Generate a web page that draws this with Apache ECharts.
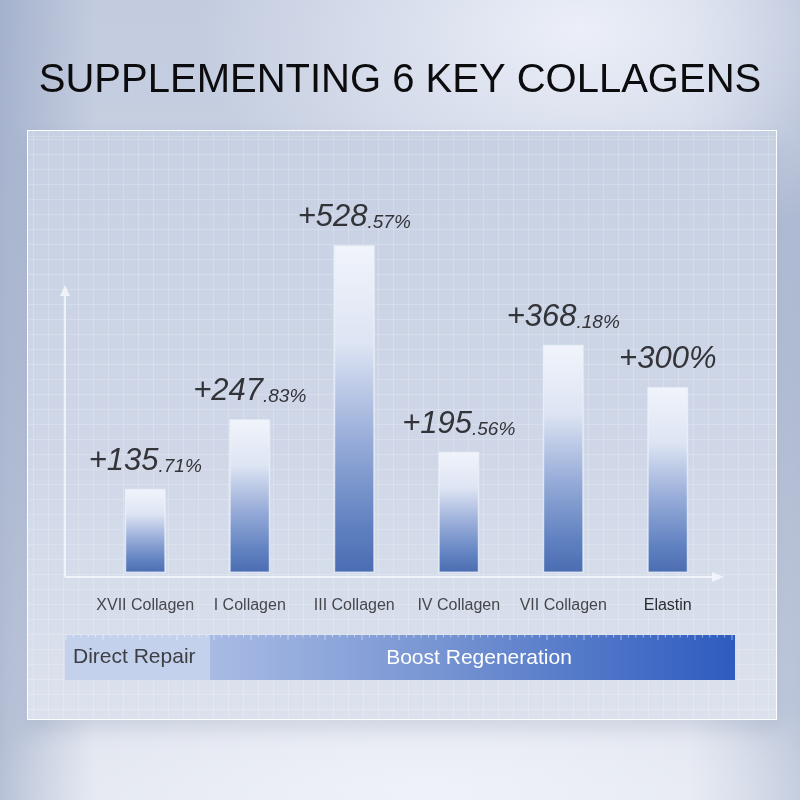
<!DOCTYPE html>
<html>
<head>
<meta charset="utf-8">
<title>Supplementing 6 Key Collagens</title>
<script src="https://cdn.jsdelivr.net/npm/echarts/dist/echarts.min.js"></script>
<style>
  html, body { margin: 0; padding: 0; }
  body {
    width: 800px; height: 800px; overflow: hidden; position: relative;
    background:
      radial-gradient(ellipse 380px 230px at 580px 30px, rgba(238,241,250,0.95), rgba(238,241,250,0) 100%),
      radial-gradient(ellipse 460px 130px at 430px 790px, rgba(240,243,249,0.9), rgba(240,243,249,0) 100%),
      linear-gradient(90deg, rgba(140,156,190,0.55) 0%, rgba(140,156,190,0) 12%, rgba(140,156,190,0) 86%, rgba(140,156,190,0.45) 100%),
      linear-gradient(180deg, #c3ccdf 0%, #cbd3e3 45%, #dce1ec 80%, #e3e7f0 100%);
  }
  #panel {
    position: absolute; left: 27px; top: 130px; width: 748px; height: 588px;
    border: 1.5px solid rgba(255,255,255,0.95);
    background:
      repeating-linear-gradient(90deg, rgba(255,255,255,0.19) 0 1px, transparent 1px 15px),
      repeating-linear-gradient(180deg, rgba(255,255,255,0.19) 0 1px, transparent 1px 15px),
      linear-gradient(180deg, #c7d1e3 0%, #ced6e7 50%, #dce2ed 100%);
    background-position: 5px 8px, 5px 8px, 0 0;
    box-shadow: 0 10px 16px rgba(110,125,160,0.18);
  }
  #chart { position: absolute; left: 0; top: 0; width: 800px; height: 800px; }
</style>
</head>
<body>
<div id="panel"></div>
<div id="chart"></div>
<script>
// Chart content
const titleText = 'SUPPLEMENTING 6 KEY COLLAGENS';
const categories = ['XVII Collagen', 'I Collagen', 'III Collagen', 'IV Collagen', 'VII Collagen', 'Elastin'];
const increases = [135.71, 247.83, 528.57, 195.56, 368.18, 300];
const bandLabels = ['Direct Repair', 'Boost Regeneration'];

const chart = echarts.init(document.getElementById('chart'), null, { renderer: 'canvas' });

// "+528.57%" -> large integer part, small decimal part
function percentLabel(v) {
  const parts = String(v).split('.');
  if (parts.length === 1) return '{big|+' + parts[0] + '%}';
  return '{big|+' + parts[0] + '}{small|.' + parts[1] + '%}';
}

// Decorative axis arrows and the repair / regeneration band
const axisColor = 'rgba(244,247,252,0.85)';
const graphics = [
  { type: 'line', shape: { x1: 65, y1: 577, x2: 65, y2: 295 }, style: { stroke: axisColor, lineWidth: 2 } },
  { type: 'polygon', shape: { points: [[65, 285], [60, 296], [70, 296]] }, style: { fill: axisColor } },
  { type: 'line', shape: { x1: 65, y1: 577, x2: 713, y2: 577 }, style: { stroke: axisColor, lineWidth: 2 } },
  { type: 'polygon', shape: { points: [[724, 577], [712, 572], [712, 582]] }, style: { fill: axisColor } },
  { type: 'rect', shape: { x: 65, y: 635, width: 145, height: 45 }, style: { fill: '#c4d1ec' } },
  {
    type: 'rect', shape: { x: 210, y: 635, width: 525, height: 45 },
    style: {
      fill: new echarts.graphic.LinearGradient(0, 0, 1, 0, [
        { offset: 0, color: '#a8bbe4' },
        { offset: 0.45, color: '#7593d2' },
        { offset: 1, color: '#2d5bbf' }
      ])
    }
  },
  { type: 'text', left: 73, top: 647, style: { text: bandLabels[0], font: '21px "Liberation Sans", Arial, sans-serif', fill: '#3d3f45' } },
  { type: 'text', x: 479, y: 658, style: { text: bandLabels[1], font: '21px "Liberation Sans", Arial, sans-serif', fill: '#ffffff', align: 'center', verticalAlign: 'middle' } }
];
// ruler ticks along the top edge of the band
for (let i = 0; i * 7.4 <= 668; i++) {
  const x = 66 + i * 7.4;
  const h = i % 5 === 0 ? 5 : 2.5;
  graphics.push({ type: 'line', shape: { x1: x, y1: 635, x2: x, y2: 635 + h }, style: { stroke: 'rgba(255,255,255,0.5)', lineWidth: 1 } });
}

const option = {
  animation: false,
  title: {
    text: titleText,
    left: 'center',
    top: 56,
    textStyle: { fontFamily: '"Liberation Sans", Arial, sans-serif', fontSize: 40, fontWeight: 'normal', color: '#0c0c0e' }
  },
  grid: { left: 93, right: 80, top: 201, bottom: 227 },
  xAxis: {
    type: 'category',
    data: categories,
    axisLine: { show: false },
    axisTick: { show: false },
    splitLine: { show: false },
    axisLabel: {
      interval: 0,
      margin: 25,
      fontSize: 16,
      fontFamily: '"Liberation Sans", Arial, sans-serif',
      color: (value) => value === 'Elastin' ? '#2a2c31' : '#45474d'
    }
  },
  yAxis: { type: 'value', min: 0, max: 600, show: false },
  series: [{
    type: 'bar',
    data: increases,
    barWidth: 41,
    itemStyle: {
      color: new echarts.graphic.LinearGradient(0, 0, 0, 1, [
        { offset: 0, color: '#f1f4fb' },
        { offset: 0.3, color: '#dde4f3' },
        { offset: 0.6, color: '#96abd8' },
        { offset: 0.85, color: '#6182c1' },
        { offset: 1, color: '#4a6cb1' }
      ]),
      borderColor: 'rgba(236,241,250,0.75)',
      borderWidth: 1.5
    },
    label: {
      show: true,
      position: 'top',
      distance: 12,
      formatter: (p) => percentLabel(p.value),
      rich: {
        big: { fontFamily: '"Liberation Sans", Arial, sans-serif', fontStyle: 'italic', fontSize: 31, color: '#333439', lineHeight: 34, verticalAlign: 'bottom' },
        small: { fontFamily: '"Liberation Sans", Arial, sans-serif', fontStyle: 'italic', fontSize: 19, color: '#333439', lineHeight: 34, verticalAlign: 'bottom', padding: [0, 0, 1, 0] }
      }
    }
  }],
  graphic: graphics
};

chart.setOption(option);
</script>
</body>
</html>
